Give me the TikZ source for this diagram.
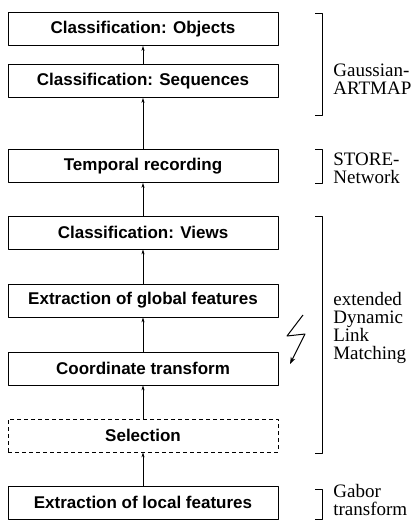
\documentclass[tikz,border=0pt]{standalone}
\usepackage{fontspec}
\setmainfont{Liberation Serif}
\setsansfont{Liberation Sans}
\usetikzlibrary{arrows.meta,positioning}

\begin{document}
\begin{tikzpicture}[x=1pt,y=-1pt,>={Stealth[length=5pt,width=3pt]},line join=round,line width=0.7pt,
  stage/.style={draw,minimum width=270pt,minimum height=33pt,inner sep=0pt,
    font=\sffamily\bfseries\fontsize{17}{19}\selectfont},
  tag/.style={anchor=west,align=left,inner sep=0pt,font=\fontsize{19}{18}\selectfont}]
  \useasboundingbox (0,0) rectangle (420,522);
  % processing stages, bottom to top
  \node[stage] (obj)  at (143,29)    {Classification: Objects};
  \node[stage] (seq)  at (143,81)    {Classification: Sequences};
  \node[stage] (rec)  at (143,166)   {Temporal recording};
  \node[stage] (view) at (143,232.5) {Classification: Views};
  \node[stage] (glob) at (143,300.5) {Extraction of global features};
  \node[stage] (coord) at (143,368.5) {Coordinate transform};
  \node[stage,dash pattern=on 4pt off 3pt] (sel) at (143,435.5) {Selection};
  \node[stage] (loc)  at (143,502.5) {Extraction of local features};
  \draw[->] (loc) -- (sel);
  \draw[->] (sel) -- (coord);
  \draw[->] (coord) -- (glob);
  \draw[->] (glob) -- (view);
  \draw[->] (view) -- (rec);
  \draw[->] (rec) -- (seq);
  \draw[->] (seq) -- (obj);
  % brackets and the models they stand for
  \draw (315,13) -- (322,13) -- (322,115) -- (315,115);
  \draw (315,149) -- (322,149) -- (322,183) -- (315,183);
  \draw (315,216) -- (322,216) -- (322,453) -- (315,453);
  \draw (315,489) -- (322,489) -- (322,519) -- (315,519);
  \node[tag] (gam) at (333,79)  {Gaussian-\\ARTMAP};
  \node[tag] (sto) at (333,168) {STORE-\\Network};
  \node[tag] (dlm) at (333,328) {extended\\Dynamic\\Link\\Matching};
  \node[tag] (gab) at (333,500) {Gabor\\transform};
  % lightning flash
  \coordinate (flash) at (290,364);
  \draw[->,line width=1pt,>={Stealth[length=7pt,width=5pt]}] (303,315) -- (287,336) -- (305,334) -- (flash);
\end{tikzpicture}
\end{document}
